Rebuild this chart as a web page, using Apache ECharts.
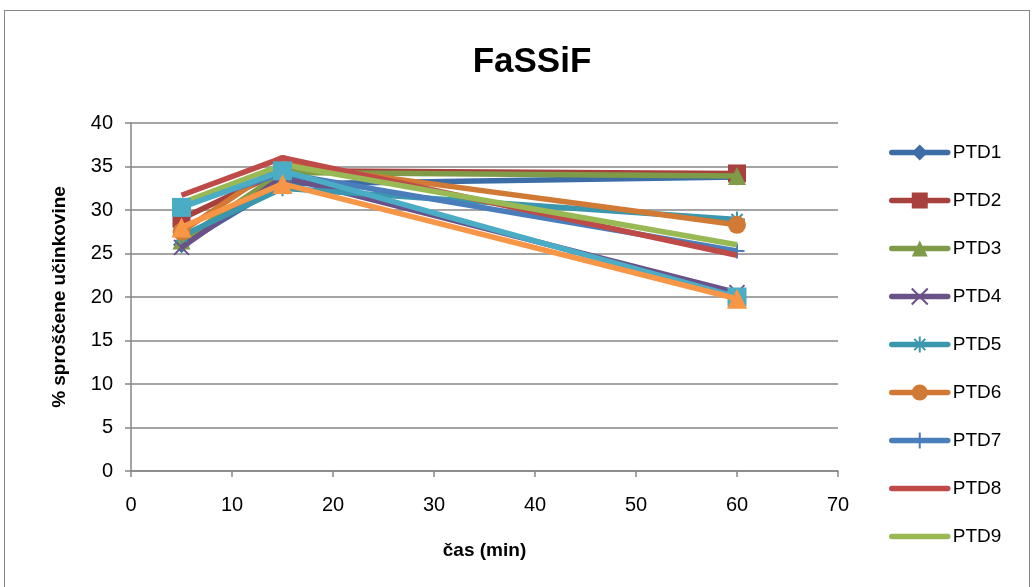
<!DOCTYPE html>
<html>
<head>
<meta charset="utf-8">
<script src="https://cdn.jsdelivr.net/npm/echarts@6/dist/echarts.min.js"></script>
<style>
html, body { margin: 0; padding: 0; background: #fff; }
#chart { width: 1034px; height: 587px; }
.frame { position: absolute; left: 4px; top: 10px; width: 1026px; height: 578px; border: 1px solid #868686; box-sizing: border-box; pointer-events: none; }
</style>
</head>
<body>
<div id="chart"></div>
<div class="frame"></div>
<script>
// time points (min)
var times = [5, 15, 60];
var names = ['PTD1', 'PTD2', 'PTD3', 'PTD4', 'PTD5', 'PTD6', 'PTD7', 'PTD8', 'PTD9', 'PTD10', 'PTD11'];
// % released per series
var ptd1 = [26.0, 33.0, 33.8];
var ptd2 = [29.0, 34.5, 34.2];
var ptd3 = [26.5, 34.3, 33.9];
var ptd4 = [25.7, 33.8, 20.5];
var ptd5 = [27.0, 32.5, 28.9];
var ptd6 = [27.5, 35.3, 28.3];
var ptd7 = [30.5, 34.2, 25.3];
var ptd8 = [31.7, 36.0, 24.8];
var ptd9 = [30.8, 35.2, 26.0];
var ptd10 = [30.3, 34.5, 20.0];
var ptd11 = [28.0, 33.0, 19.8];
var values = [ptd1, ptd2, ptd3, ptd4, ptd5, ptd6, ptd7, ptd8, ptd9, ptd10, ptd11];

var colors = ['#3C6DA6', '#A8413D', '#7F9B47', '#6A5188', '#3A97AE', '#D17A35',
              '#4A7EBB', '#BE4B48', '#98B954', '#4BACC6', '#F79646'];
var X_PATH = 'path://M0,0L10,10M10,0L0,10';
var STAR_PATH = 'path://M5,0L5,10M0,5L10,5M1.5,1.5L8.5,8.5M8.5,1.5L1.5,8.5';
var PLUS_PATH = 'path://M0,5L10,5M5,0L5,10';
var symbols = ['diamond', 'rect', 'triangle', X_PATH, STAR_PATH, 'circle', PLUS_PATH, 'none', 'none', 'rect', 'triangle'];
var sizes = [17, 18, 18, 15, 16, 18, 15, 1, 1, 19, 20];

var myChart = echarts.init(document.getElementById('chart'));

var series = [];
for (var i = 0; i < names.length; i++) {
    var sym = symbols[i];
    var isStroke = (sym === X_PATH || sym === STAR_PATH || sym === PLUS_PATH);
    series.push({
        name: names[i],
        type: 'line',
        data: times.map(function (t, k) { return [t, values[i][k]]; }),
        symbol: sym,
        symbolSize: sizes[i],
        showSymbol: sym !== 'none',
        lineStyle: { width: 5.5, color: colors[i] },
        itemStyle: isStroke
            ? { color: colors[i], borderColor: colors[i], borderWidth: 2 }
            : { color: colors[i] },
        emphasis: { disabled: true },
        z: 2 + i
    });
}

// legend shows only the first nine, like the original
var legendData = names.slice(0, 9).map(function (n, i) {
    var item = { name: n };
    if (symbols[i] === 'none') item.itemStyle = { opacity: 0 };
    return item;
});

var option = {
    animation: false,
    color: colors,
    title: {
        text: 'FaSSiF',
        left: 527,
        textAlign: 'center',
        top: 40,
        textStyle: { fontFamily: 'Liberation Sans', fontWeight: 'bold', fontSize: 35, color: '#000' }
    },
    legend: {
        orient: 'vertical',
        left: 884,
        top: 138,
        itemGap: 29,
        itemWidth: 56,
        itemHeight: 20,
        lineStyle: { width: 5.5, cap: 'round' },
        data: legendData,
        textStyle: { fontFamily: 'Liberation Sans', fontSize: 19, color: '#000' }
    },
    grid: { left: 131, right: 196, top: 123, bottom: 116, containLabel: false },
    xAxis: {
        type: 'value',
        min: 0, max: 70, interval: 10,
        name: 'čas (min)',
        nameLocation: 'middle',
        nameGap: 70,
        nameTextStyle: { fontFamily: 'Liberation Sans', fontWeight: 'bold', fontSize: 19, color: '#000' },
        axisLine: { lineStyle: { color: '#868686', width: 1.5 } },
        axisTick: { show: true, length: 6, lineStyle: { color: '#868686', width: 1.5 } },
        axisLabel: { fontFamily: 'Liberation Sans', fontSize: 20, color: '#000', margin: 24 },
        splitLine: { show: false }
    },
    yAxis: {
        type: 'value',
        min: 0, max: 40, interval: 5,
        name: '% sproščene učinkovine',
        nameLocation: 'middle',
        nameGap: 62,
        nameRotate: 90,
        nameTextStyle: { fontFamily: 'Liberation Sans', fontWeight: 'bold', fontSize: 19, color: '#000' },
        axisLine: { show: true, lineStyle: { color: '#868686', width: 1.5 } },
        axisTick: { show: true, length: 6, lineStyle: { color: '#868686', width: 1.5 } },
        axisLabel: { fontFamily: 'Liberation Sans', fontSize: 20, color: '#000', margin: 18 },
        splitLine: { show: true, lineStyle: { color: '#868686', width: 1.5 } }
    },
    series: series
};

myChart.setOption(option);
window.addEventListener('resize', function () { myChart.resize(); });
</script>
</body>
</html>
